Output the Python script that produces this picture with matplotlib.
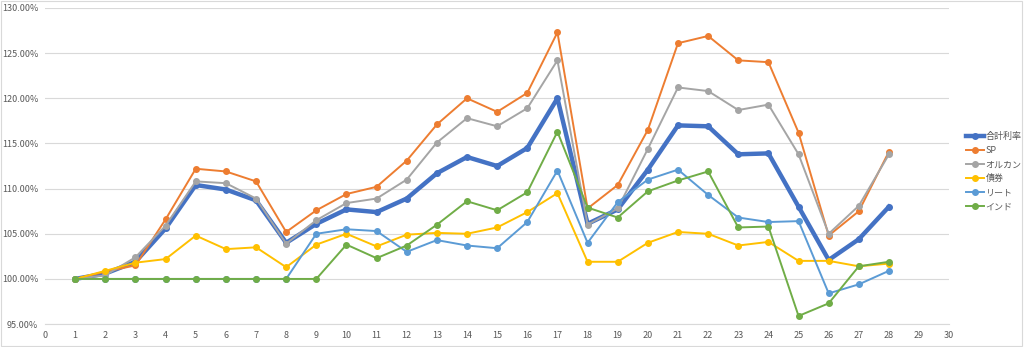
import matplotlib
matplotlib.use("Agg")
import matplotlib.pyplot as plt
from matplotlib.ticker import PercentFormatter

plt.rcParams['font.family'] = ['Noto Sans CJK JP', 'DejaVu Sans']

periods = list(range(1, 29))

total = [100.0, 100.6, 101.9, 105.6, 110.4, 109.9, 108.7, 104.0, 106.1, 107.7,
         107.4, 108.9, 111.7, 113.5, 112.5, 114.5, 120.0, 106.1, 107.7, 112.1,
         117.0, 116.9, 113.8, 113.9, 108.0, 102.1, 104.4, 108.0]
sp = [100.0, 100.8, 101.5, 106.6, 112.2, 111.9, 110.8, 105.2, 107.6, 109.4,
      110.2, 113.1, 117.1, 120.0, 118.5, 120.6, 127.3, 107.8, 110.4, 116.5,
      126.1, 126.9, 124.2, 124.0, 116.2, 104.8, 107.5, 114.1]
orukan = [100.0, 100.4, 102.4, 105.9, 110.8, 110.6, 108.9, 103.9, 106.5, 108.4,
          108.9, 111.0, 115.1, 117.8, 116.9, 118.9, 124.2, 106.0, 107.8, 114.4,
          121.2, 120.8, 118.7, 119.3, 113.8, 105.0, 108.1, 113.8]
bond = [100.0, 100.9, 101.8, 102.2, 104.8, 103.3, 103.5, 101.3, 103.8, 105.0,
        103.6, 104.9, 105.1, 105.0, 105.7, 107.4, 109.5, 101.9, 101.9, 104.0,
        105.2, 105.0, 103.7, 104.1, 102.0, 102.0, 101.4, 101.7]
reit = [100.0, 100.0, 100.0, 100.0, 100.0, 100.0, 100.0, 100.0, 105.0, 105.5,
        105.3, 103.0, 104.3, 103.7, 103.4, 106.3, 112.0, 104.0, 108.5, 111.0,
        112.1, 109.3, 106.8, 106.3, 106.4, 98.4, 99.4, 100.9]
india = [100.0, 100.0, 100.0, 100.0, 100.0, 100.0, 100.0, 100.0, 100.0, 103.8,
         102.3, 103.7, 106.0, 108.6, 107.6, 109.6, 116.3, 107.9, 106.8, 109.7,
         110.9, 111.9, 105.7, 105.8, 95.9, 97.3, 101.4, 101.9]

series = [
    ("合計利率", total, "#4472C4", 3.2),
    ("SP", sp, "#ED7D31", 1.4),
    ("オルカン", orukan, "#A5A5A5", 1.4),
    ("債券", bond, "#FFC000", 1.4),
    ("リート", reit, "#5B9BD5", 1.4),
    ("インド", india, "#70AD47", 1.4),
]

fig = plt.figure(figsize=(10.24, 3.47), dpi=100)
ax = fig.add_axes([0.044, 0.066, 0.883, 0.911])

# like Excel: later series are drawn over earlier ones
for name, vals, color, lw in series:
    ax.plot(periods, vals, color=color, linewidth=lw, marker='o',
            markersize=4, label=name)

ax.set_xlim(0, 30)
ax.set_ylim(95, 130)
ax.set_xticks(range(0, 31))
ax.set_yticks(range(95, 131, 5))
ax.yaxis.set_major_formatter(PercentFormatter(decimals=2))
ax.grid(axis='y', color='#D9D9D9', linewidth=0.8)
ax.set_axisbelow(True)
for side in ['top', 'right', 'left']:
    ax.spines[side].set_visible(False)
ax.spines['bottom'].set_color('#D9D9D9')
ax.tick_params(axis='both', length=0, labelsize=6.5, colors='#595959', pad=5)

ax.legend(loc='center left', bbox_to_anchor=(0.935, 0.505),
          bbox_transform=fig.transFigure, frameon=False, fontsize=6.5,
          labelcolor='#595959', handlelength=2.0, handletextpad=0.2,
          labelspacing=0.55)

fig.patches.append(plt.Rectangle((0.001, 0.002), 0.997, 0.995, transform=fig.transFigure,
                                 fill=False, edgecolor='#D9D9D9', linewidth=0.8))

fig.savefig("out.png", dpi=100)
